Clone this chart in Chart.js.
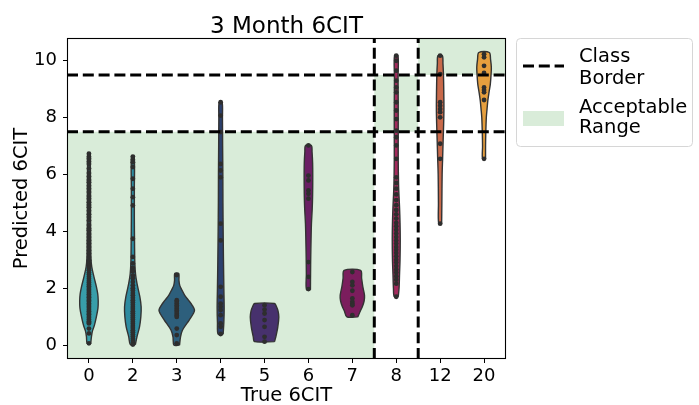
<!DOCTYPE html>
<html><head><meta charset="utf-8">
<script src="https://cdn.jsdelivr.net/npm/chart.js@4.4.1/dist/chart.umd.min.js"></script>
<style>html,body{margin:0;padding:0;background:#fff;}canvas{display:block;}</style>
</head><body>
<canvas id="c" width="699" height="405"></canvas>
<script>
// ---------- data ----------
const titleText = '3 Month 6CIT';
const xTitle = 'True 6CIT';
const yTitle = 'Predicted 6CIT';
const categories = ['0','2','3','4','5','6','7','8','12','20'];
const yTickValues = [0,2,4,6,8,10];
const yMin = -0.49, yMax = 10.8;
const violinColors = ['#389eaa','#2e8ba0','#2d5f7c','#2c406e','#47316d','#6a1f64','#7b1d5d','#a32a5c','#c8694a','#e69f3e'];

// density profiles: [predicted value, half width (category units)]
const profile0 = [[0.06,.041],[0.3,.057],[0.5,.080],[0.7,.125],[1.0,.170],[1.3,.205],[1.55,.211],[1.8,.200],[2.05,.170],[2.4,.114],[2.75,.064],[3.1,.045],[3.6,.041],[4.5,.036],[5.5,.036],[6.3,.032],[6.73,.027]];
const profile2 = [[0.02,.057],[0.3,.095],[0.64,.152],[1.0,.182],[1.35,.189],[1.7,.159],[2.16,.095],[2.5,.061],[2.9,.045],[3.5,.039],[4.5,.034],[5.5,.034],[6.63,.030]];
const profile3 = [[0.0,.064],[0.29,.086],[0.53,.132],[0.88,.284],[1.1,.375],[1.23,.405],[1.4,.352],[1.58,.266],[1.75,.182],[1.93,.120],[2.1,.068],[2.28,.050],[2.52,.045]];
const profile4 = [[0.38,.057],[0.8,.073],[1.3,.080],[2.0,.073],[3.0,.064],[4.0,.057],[5.0,.052],[6.0,.050],[7.0,.045],[8.0,.041],[8.54,.034]];
const profile5 = [[0.12,.227],[0.29,.257],[0.64,.302],[0.99,.325],[1.2,.307],[1.35,.273],[1.46,.227]];
const profile6 = [[1.95,.045],[2.5,.048],[3.1,.052],[3.7,.059],[4.27,.068],[4.8,.086],[5.3,.095],[5.9,.098],[6.4,.095],[6.8,.082],[7.02,.068]];
const profile7 = [[0.99,.125],[1.2,.182],[1.35,.227],[1.55,.268],[1.75,.277],[2.05,.239],[2.35,.211],[2.63,.189]];
const profile8 = [[1.7,.045],[2.0,.064],[2.5,.075],[3.0,.086],[3.7,.091],[4.3,.086],[4.85,.075],[5.3,.061],[5.7,.052],[6.5,.045],[7.5,.045],[8.5,.045],[9.4,.041],[10.18,.039]];
const profile12 = [[4.27,.034],[5.0,.039],[6.0,.045],[6.6,.057],[7.2,.068],[7.8,.080],[8.36,.086],[9.0,.082],[9.53,.075],[9.9,.064],[10.18,.050]];
const profile20 = [[6.55,.034],[7.0,.034],[7.43,.039],[8.01,.052],[8.3,.068],[8.6,.086],[8.9,.114],[9.18,.143],[9.5,.159],[9.77,.166],[10.05,.148],[10.29,.120]];

// individual observations (inner points)
const pts0 = [6.73,6.62,6.55,6.45,6.37,6.21,6.05,5.93,5.81,5.73,5.6,5.5,5.38,5.24,5.15,5.02,4.93,4.85,4.72,4.6,4.5,4.38,4.22,4.1,4.04,3.91,3.8,3.68,3.57,3.45,3.33,3.22,3.1,2.98,2.87,2.8,2.71,2.63,2.55,2.48,2.4,2.33,2.26,2.2,2.13,2.07,2.01,1.95,1.9,1.84,1.79,1.73,1.68,1.62,1.57,1.52,1.46,1.41,1.35,1.3,1.24,1.19,1.13,1.08,1.02,0.96,0.9,0.84,0.79,0.76,0.58,0.41,0.06];
const pts2 = [6.63,6.52,6.43,6.26,5.85,5.5,5.2,4.91,3.74,3.1,2.87,2.71,2.6,2.45,2.35,2.22,2.1,2.0,1.92,1.83,1.75,1.66,1.58,1.5,1.42,1.34,1.27,1.19,1.12,1.04,0.97,0.9,0.82,0.75,0.67,0.6,0.52,0.45,0.37,0.3,0.22,0.15,0.08,0.02];
const pts3 = [2.46,1.58,1.52,1.46,1.4,1.34,1.28,1.22,1.16,1.1,1.04,0.99,0.58,0.35,0.06];
const pts4 = [8.54,8.07,7.49,6.37,6.14,5.9,4.27,3.68,2.05,1.7,1.46,1.35,1.23,1.05,0.76,0.64,0.39];
const pts5 = [1.40,1.25,1.11,0.88,0.64,0.29,0.12];
const pts6 = [7.02,5.96,5.79,5.44,5.32,5.15,2.92,2.4,1.97];
const pts7 = [2.57,2.22,2.1,1.91,1.64,1.52,1.45,1.40,1.05];
const pts8 = [10.18,10.0,9.65,9.3,9.06,8.89,8.54,8.25,7.95,7.54,7.31,7.02,6.55,5.9,5.7,5.5,5.3,5.1,4.92,4.75,4.6,4.45,4.3,4.18,4.05,3.92,3.8,3.68,3.57,3.45,3.35,3.24,3.12,3.0,2.9,2.78,2.66,2.55,2.42,2.3,2.16,1.70];
const pts12 = [10.18,9.53,8.54,8.42,8.3,8.19,8.01,7.08,6.55,4.27];
const pts20 = [10.23,10.12,9.82,9.57,9.06,8.97,8.89,8.62,6.55];

// class borders and acceptable ranges
const borderY = [7.5, 9.5];
const borderX = [6.5, 7.5];
const rangeX0 = [-0.5, 6.5, 7.5];
const rangeX1 = [6.5, 7.5, 9.5];
const rangeY0 = [-0.5, 7.5, 9.5];
const rangeY1 = [7.5, 9.5, 11];
const legendLabels = [['Class','Border'],['Acceptable','Range']];

// ---------- build ----------
const profiles = [profile0,profile2,profile3,profile4,profile5,profile6,profile7,profile8,profile12,profile20];
const pointSets = [pts0,pts2,pts3,pts4,pts5,pts6,pts7,pts8,pts12,pts20];
const GREEN = 'rgb(217,236,217)';
const FONT = '"DejaVu Sans", sans-serif';

const datasets = [];
borderY.forEach(y => datasets.push({data:[{x:-0.5,y},{x:9.5,y}], order:0}));
borderX.forEach(x => datasets.push({data:[{x,y:yMin},{x,y:yMax}], order:0}));
datasets.forEach(d => Object.assign(d, {borderColor:'#000', borderWidth:3, borderDash:[11,4.8], pointRadius:0, fill:false, tension:0}));

pointSets.forEach((arr,i) => datasets.push({
  data: arr.map(y => ({x:i, y})), showLine:false, order:1,
  pointRadius:2.4, pointBackgroundColor:'#2e2e2e', pointBorderWidth:0, pointHoverRadius:2.4
}));

profiles.forEach((prof,i) => {
  const right = prof.map(([y,w]) => ({x:i+w, y}));
  const left = prof.slice().reverse().map(([y,w]) => ({x:i-w, y}));
  const pts = right.concat(left);
  pts.push(right[0]);
  datasets.push({data:pts, order:2, fill:'shape', backgroundColor:violinColors[i],
    borderColor:'#333', borderWidth:1.4, pointRadius:0, tension:0.3});
});

rangeX0.forEach((x0,i) => {
  const x1 = rangeX1[i], y0 = rangeY0[i], y1 = rangeY1[i];
  datasets.push({data:[{x:x0,y:y0},{x:x1,y:y0},{x:x1,y:y1},{x:x0,y:y1},{x:x0,y:y0}],
    order:3, fill:'shape', backgroundColor:GREEN, borderWidth:0, borderColor:GREEN, pointRadius:0, tension:0});
});

const decor = {
  id:'decor',
  afterDatasetsDraw(chart){
    const {ctx, chartArea:a} = chart;
    ctx.save();
    ctx.strokeStyle='#000'; ctx.lineWidth=1.1;
    ctx.strokeRect(a.left+0.5, a.top+0.5, a.right-a.left-1, a.bottom-a.top-1);
    ctx.restore();
  },
  afterDraw(chart){
    const {ctx, chartArea:a} = chart;
    ctx.save();
    ctx.fillStyle='#000';
    ctx.font='23px '+FONT; ctx.textAlign='center'; ctx.textBaseline='alphabetic';
    ctx.fillText(titleText, (a.left+a.right)/2, a.top-5);
    // legend
    const bx = a.right+10.5, by = a.top+0.5, bw = 176, bh = 108;
    ctx.beginPath();
    if (ctx.roundRect) ctx.roundRect(bx,by,bw,bh,4); else ctx.rect(bx,by,bw,bh);
    ctx.fillStyle='rgba(255,255,255,0.8)'; ctx.fill();
    ctx.strokeStyle='#d6d6d6'; ctx.lineWidth=1; ctx.stroke();
    // handle 1: dashed line
    ctx.beginPath(); ctx.setLineDash([11,4.8]); ctx.strokeStyle='#000'; ctx.lineWidth=3;
    ctx.moveTo(bx+6.5, by+27.5); ctx.lineTo(bx+47.5, by+27.5); ctx.stroke(); ctx.setLineDash([]);
    // handle 2: patch
    ctx.fillStyle=GREEN; ctx.fillRect(bx+6.5, by+72.5, 41, 15);
    ctx.fillStyle='#000'; ctx.font='19.5px '+FONT; ctx.textAlign='left';
    const tx = bx+62.5;
    ctx.fillText(legendLabels[0][0], tx, by+23.5);
    ctx.fillText(legendLabels[0][1], tx, by+45.5);
    ctx.fillText(legendLabels[1][0], tx, by+74.5);
    ctx.fillText(legendLabels[1][1], tx, by+94.5);
    ctx.restore();
  }
};

Chart.defaults.font.family = FONT;
Chart.defaults.color = '#000';

new Chart(document.getElementById('c'), {
  type:'line',
  data:{datasets},
  options:{
    responsive:false, animation:false, events:[],
    layout:{padding:{left:0, right:193, top:38, bottom:0}},
    plugins:{legend:{display:false}, tooltip:{enabled:false}, title:{display:false}},
    scales:{
      x:{type:'linear', min:-0.5, max:9.5,
        afterFit(s){ s.height = 46; },
        afterBuildTicks(s){ s.ticks = categories.map((c,i)=>({value:i})); },
        ticks:{font:{size:18}, padding:3, maxRotation:0, autoSkip:false, callback:(v)=>categories[v]},
        grid:{display:true, drawOnChartArea:false, drawTicks:true, tickLength:4, tickColor:'#000', color:'#000'},
        border:{display:false},
        title:{display:true, text:xTitle, font:{size:19.5, lineHeight:0.9}, padding:{top:0,bottom:0}}
      },
      y:{type:'linear', min:yMin, max:yMax,
        afterFit(s){ s.width = 67; },
        afterBuildTicks(s){ s.ticks = yTickValues.map(v=>({value:v})); },
        ticks:{font:{size:18}, padding:6},
        grid:{display:true, drawOnChartArea:false, drawTicks:true, tickLength:4, tickColor:'#000', color:'#000'},
        border:{display:false},
        title:{display:true, text:yTitle, font:{size:19.5}, padding:{top:10,bottom:0}}
      }
    }
  },
  plugins:[decor]
});
</script>
</body></html>
